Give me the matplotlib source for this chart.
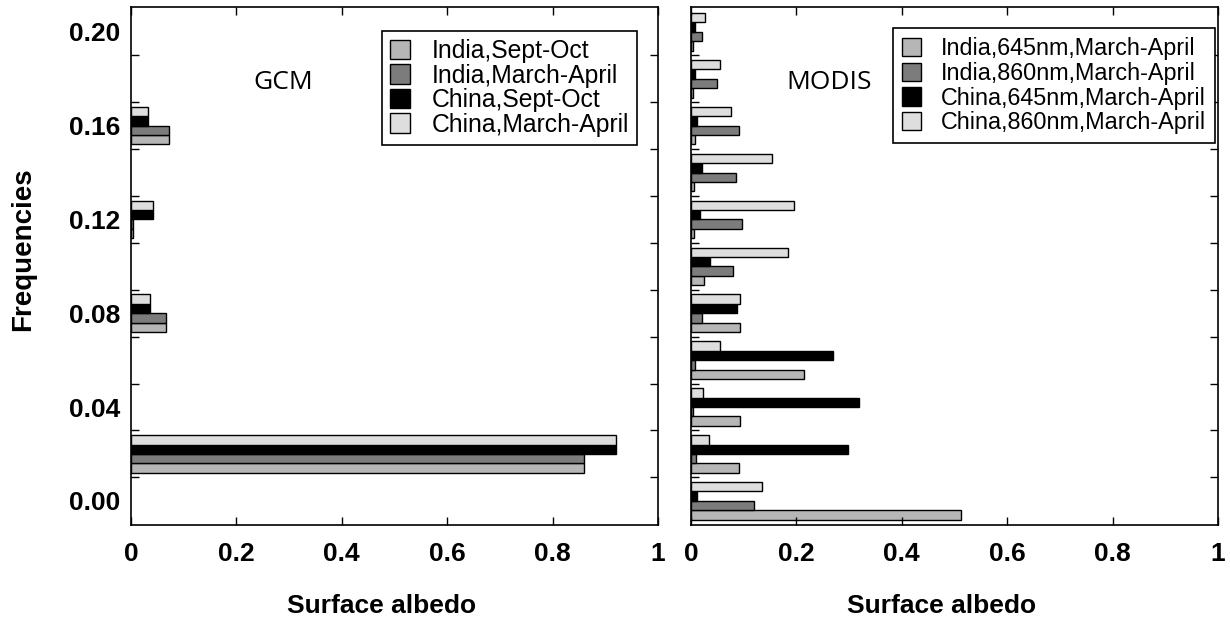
import numpy as np
import matplotlib
matplotlib.use("Agg")
import matplotlib.pyplot as plt
from matplotlib.ticker import FixedLocator

plt.rcParams["font.family"] = ["Liberation Sans", "DejaVu Sans"]

# Data ------------------------------------------------------------------------
gcm_bins = [0.02, 0.08, 0.12, 0.16]
gcm_labels = ["India,Sept-Oct", "India,March-April", "China,Sept-Oct", "China,March-April"]
gcm_india_so = [0.86, 0.066, 0.004, 0.072]
gcm_india_ma = [0.86, 0.066, 0.004, 0.072]
gcm_china_so = [0.92, 0.036, 0.042, 0.032]
gcm_china_ma = [0.92, 0.036, 0.042, 0.032]

modis_bins = [0.00, 0.02, 0.04, 0.06, 0.08, 0.10, 0.12, 0.14, 0.16, 0.18, 0.20]
modis_labels = ["India,645nm,March-April", "India,860nm,March-April",
                "China,645nm,March-April", "China,860nm,March-April"]
modis_india_645 = [0.512, 0.091, 0.093, 0.214, 0.093, 0.025, 0.005, 0.006, 0.008, 0.003, 0.003]
modis_india_860 = [0.119, 0.010, 0.004, 0.007, 0.021, 0.080, 0.097, 0.086, 0.091, 0.049, 0.021]
modis_china_645 = [0.011, 0.298, 0.319, 0.270, 0.087, 0.036, 0.017, 0.021, 0.012, 0.007, 0.007]
modis_china_860 = [0.135, 0.034, 0.023, 0.055, 0.093, 0.184, 0.195, 0.153, 0.076, 0.055, 0.027]

ytick_vals = [0.00, 0.04, 0.08, 0.12, 0.16, 0.20]
ytick_labels = ["0.00", "0.04", "0.08", "0.12", "0.16", "0.20"]
xtick_vals = [0, 0.2, 0.4, 0.6, 0.8, 1.0]
xtick_labels = ["0", "0.2", "0.4", "0.6", "0.8", "1"]
minor_y = [0.01, 0.03, 0.05, 0.07, 0.09, 0.11, 0.13, 0.15, 0.17, 0.19]

COLORS = ["#b6b6b6", "#7c7c7c", "#000000", "#dedede"]
BAR_H = 0.004


def draw_panel(ax, bins, series, labels, title, title_x, leg_anchor, leg_size, leg_space, leg_pad):
    bins = np.asarray(bins)
    for i, (vals, lab) in enumerate(zip(series, labels)):
        ax.barh(bins + (i - 1.5) * BAR_H, vals, height=BAR_H, color=COLORS[i],
                edgecolor="black", linewidth=1.0, label=lab)
    ax.set_xlim(0, 1)
    ax.set_ylim(-0.0103, 0.2106)
    ax.xaxis.set_major_locator(FixedLocator(xtick_vals))
    ax.yaxis.set_major_locator(FixedLocator(ytick_vals))
    ax.yaxis.set_minor_locator(FixedLocator(minor_y))
    ax.tick_params(axis="x", which="major", direction="in", length=6, width=1,
                   top=True, bottom=True, pad=12, labelsize=19)
    ax.tick_params(axis="y", which="major", length=0, pad=8, labelsize=19)
    ax.tick_params(axis="y", which="minor", direction="in", length=6, width=1,
                   left=True, right=True)
    ax.set_xticklabels(xtick_labels, fontweight="bold")
    for sp in ax.spines.values():
        sp.set_linewidth(1.2)
    ax.text(title_x, 0.1785, title, fontsize=19, family=["Open Sans", "DejaVu Sans"],
            ha="center", va="center")
    ax.text(0.475, -0.156, "Surface albedo", transform=ax.transAxes, fontsize=19,
            fontweight="bold", ha="center", va="center")
    leg = ax.legend(loc="upper right", bbox_to_anchor=leg_anchor,
                    borderaxespad=0, fontsize=leg_size, labelspacing=leg_space,
                    handlelength=0.82, handleheight=0.82, handletextpad=0.85,
                    borderpad=leg_pad, fancybox=False, framealpha=1)
    leg.get_frame().set_edgecolor("black")
    leg.get_frame().set_linewidth(1.2)


fig = plt.figure(figsize=(12.3, 6.22), dpi=100)
ax1 = fig.add_axes([131 / 1230, 1 - 525 / 622, 527 / 1230, 518 / 622])
ax2 = fig.add_axes([691 / 1230, 1 - 525 / 622, 527 / 1230, 518 / 622])

draw_panel(ax1, gcm_bins, [gcm_india_so, gcm_india_ma, gcm_china_so, gcm_china_ma],
           gcm_labels, "GCM", 0.288, (0.960, 0.9537), 17.8, 0.02, 0.33)
draw_panel(ax2, modis_bins, [modis_india_645, modis_india_860, modis_china_645, modis_china_860],
           modis_labels, "MODIS", 0.262, (0.9943, 0.9595), 16.8, 0.08, 0.38)

ax1.set_yticklabels(ytick_labels, fontweight="bold")
ax2.set_yticklabels([])

fig.text(23 / 1230, 1 - 249 / 622, "Frequencies", rotation=90, fontsize=20,
         fontweight="bold", ha="center", va="center")

fig.savefig("out.png", dpi=100)
